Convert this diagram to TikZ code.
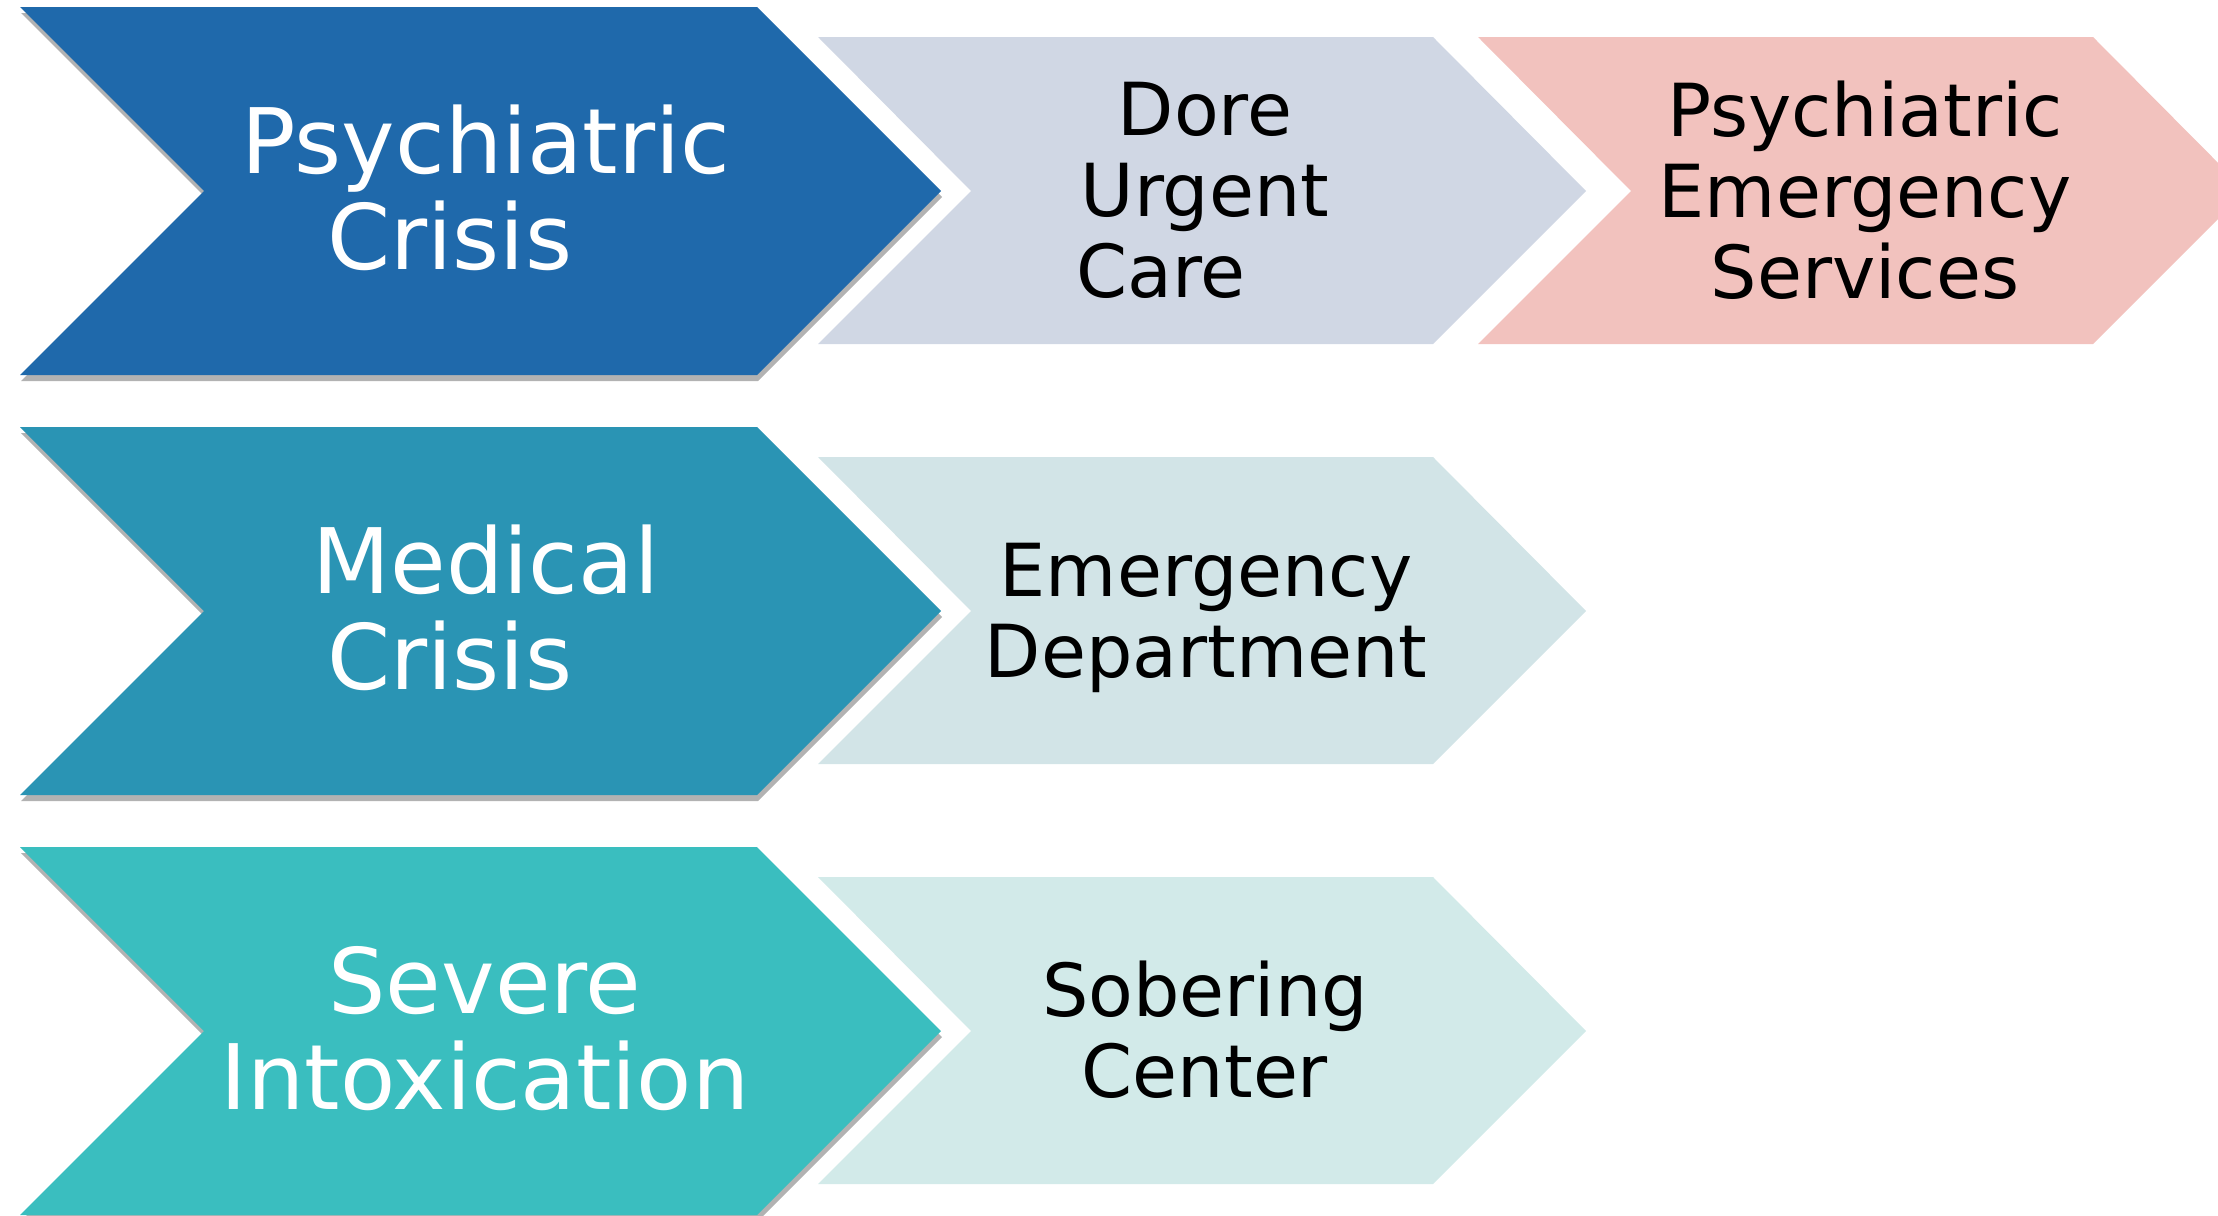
\documentclass[tikz,border=0pt]{standalone}
\usepackage{fontspec}
\setmainfont{DejaVu Sans}
\usepackage{xcolor}
\usetikzlibrary{positioning}

\definecolor{psychblue}{HTML}{1F69AB}
\definecolor{medblue}{HTML}{2A94B4}
\definecolor{intoxteal}{HTML}{3ABEBF}
\definecolor{dorebg}{HTML}{D0D7E4}
\definecolor{pesbg}{HTML}{F2C2BE}
\definecolor{edbg}{HTML}{D2E4E7}
\definecolor{soberbg}{HTML}{D2EAE9}

\begin{document}
\begin{tikzpicture}[x=0.01cm, y=-0.01cm,
    crisistext/.style={text=white, align=center, font=\fontsize{25.7}{27.3}\selectfont},
    caretext/.style={text=black, align=center, font=\fontsize{20.8}{23}\selectfont},
    shade/.style={fill=black, opacity=0.3}]
        \useasboundingbox (0,0) rectangle (2218,1215);
        \clip (0,0) rectangle (2218,1215);

        % Schaduw grote pijlen
        \fill[shade, shift={(1,6)}] (20,7) -- (757,7) -- (941,191) -- (757,375) -- (20,375) -- (204,191) -- cycle;
        \fill[shade, shift={(1,6)}] (20,427) -- (757,427) -- (941,611) -- (757,795) -- (20,795) -- (204,611) -- cycle;
        \fill[shade, shift={(1,6)}] (20,847) -- (757,847) -- (941,1031) -- (757,1215) -- (20,1215) -- (204,1031) -- cycle;

        % Grote pijlen
        \fill[psychblue] (20,7) -- (757,7) -- (941,191) -- (757,375) -- (20,375) -- (204,191) -- cycle;
        \fill[medblue] (20,427) -- (757,427) -- (941,611) -- (757,795) -- (20,795) -- (204,611) -- cycle;
        \fill[intoxteal] (20,847) -- (757,847) -- (941,1031) -- (757,1215) -- (20,1215) -- (204,1031) -- cycle;

        % Lichte pijlen
        \fill[dorebg] (818,37) -- (1433,37) -- (1586,191) -- (1433,344) -- (818,344) -- (971,191) -- cycle;
        \fill[pesbg] (1478,37) -- (2093,37) -- (2246,191) -- (2093,344) -- (1478,344) -- (1631,191) -- cycle;
        \fill[edbg] (818,457) -- (1433,457) -- (1586,611) -- (1433,764) -- (818,764) -- (971,611) -- cycle;
        \fill[soberbg] (818,877) -- (1433,877) -- (1586,1031) -- (1433,1184) -- (818,1184) -- (971,1031) -- cycle;

        % Nodes
        \node[crisistext] (psych) at (486,188) {Psychiatric\\Crisis\hspace*{0.8em}};
        \node[crisistext] (medical) at (486,608) {Medical\\Crisis\hspace*{0.8em}};
        \node[crisistext] (intox) at (485,1029) {Severe\\Intoxication};

        \node[caretext] (dore) at (1205,190) {Dore\\Urgent\\Care\hspace*{1.2em}};
        \node[caretext] (pes) at (1865,190) {Psychiatric\\Emergency\\Services};
        \node[caretext] (ed) at (1206,618) {Emergency\\Department};
        \node[caretext] (sobering) at (1205,1030) {Sobering\\Center};
    \end{tikzpicture}
\end{document}
